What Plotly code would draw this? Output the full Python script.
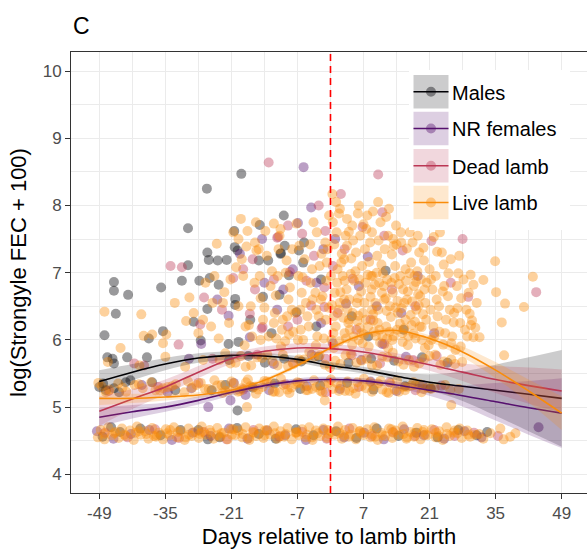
import plotly.graph_objects as go

# ---------------- data ----------------
groups = ["Males", "NR females", "Dead lamb", "Live lamb"]
colors = ["#000004", "#56106E", "#BB3754", "#F98C0A"]
x_ticks = [-49, -35, -21, -7, 7, 21, 35, 49]
x_minor = [-42, -28, -14, 0, 14, 28, 42]
y_ticks = [4, 5, 6, 7, 8, 9, 10]
y_minor = [4.5, 5.5, 6.5, 7.5, 8.5, 9.5]
birth_day = 0

smooth_x = [-49, -42, -35, -28, -21, -14, -7, 0, 7, 14, 21, 28, 35, 42, 49]
males_fit = [5.38, 5.52, 5.64, 5.73, 5.77, 5.76, 5.71, 5.62, 5.55, 5.46, 5.37, 5.31, 5.25, 5.19, 5.13]
males_lo = [5.21, 5.40, 5.55, 5.66, 5.71, 5.71, 5.66, 5.57, 5.50, 5.40, 5.25, 5.09, 4.87, 4.64, 4.41]
males_hi = [5.55, 5.64, 5.73, 5.80, 5.83, 5.81, 5.76, 5.67, 5.60, 5.52, 5.49, 5.53, 5.63, 5.74, 5.85]
nr_fit = [4.85, 4.93, 5.00, 5.10, 5.22, 5.32, 5.39, 5.41, 5.39, 5.33, 5.25, 5.17, 5.08, 4.99, 4.91]
nr_lo = [4.71, 4.83, 4.93, 5.04, 5.17, 5.28, 5.35, 5.37, 5.35, 5.28, 5.17, 5.01, 4.80, 4.59, 4.39]
nr_hi = [4.99, 5.03, 5.07, 5.16, 5.27, 5.36, 5.43, 5.45, 5.43, 5.38, 5.33, 5.33, 5.36, 5.39, 5.43]
dead_fit = [4.94, 5.12, 5.30, 5.52, 5.72, 5.83, 5.88, 5.87, 5.82, 5.73, 5.63, 5.52, 5.41, 5.32, 5.24]
dead_lo = [4.72, 4.97, 5.19, 5.43, 5.64, 5.76, 5.81, 5.80, 5.75, 5.66, 5.54, 5.39, 5.21, 5.05, 4.92]
dead_hi = [5.16, 5.27, 5.41, 5.61, 5.80, 5.90, 5.95, 5.94, 5.89, 5.80, 5.72, 5.65, 5.61, 5.59, 5.56]
live_fit = [5.13, 5.13, 5.15, 5.18, 5.25, 5.40, 5.62, 5.88, 6.08, 6.14, 6.02, 5.82, 5.55, 5.24, 4.91]
live_lo = [5.03, 5.06, 5.10, 5.14, 5.21, 5.37, 5.59, 5.85, 6.05, 6.10, 5.97, 5.74, 5.43, 5.07, 4.66]
live_hi = [5.23, 5.20, 5.20, 5.22, 5.29, 5.43, 5.65, 5.91, 6.11, 6.18, 6.07, 5.90, 5.67, 5.41, 5.16]

males_pts = [
    (-26.2, 8.25), (-18.9, 8.47), (-30.2, 7.66), (-15.0, 7.71), (-9.9, 7.85), (-20.4, 7.62), (-20.3, 7.38),
    (-19.7, 7.33), (-26.1, 7.30), (-25.8, 7.19), (-23.9, 7.18), (-22.0, 7.19), (-15.2, 7.18), (-10.6, 7.28),
    (-9.7, 7.40), (-30.2, 7.11), (-31.5, 6.88), (-27.8, 6.88), (-25.6, 6.92), (-23.7, 6.82), (-45.9, 6.86),
    (-45.9, 6.73), (-42.9, 6.67), (-35.9, 6.78), (-45.5, 6.39), (-47.9, 6.07), (-38.5, 6.02), (-35.5, 6.13),
    (-20.2, 6.61), (-20.2, 6.52), (-26.1, 6.46), (-29.0, 6.27), (-21.6, 5.94), (-27.5, 5.99), (-19.5, 5.97),
    (-19.7, 4.95), (-10.5, 7.29), (-6.7, 7.33), (-5.8, 7.15), (-13.2, 7.18), (-14.3, 6.64), (-8.8, 6.96),
    (11.7, 7.03), (-10.8, 6.67), (-7.2, 6.41), (-5.6, 7.45), (-17.0, 6.30), (-12.5, 6.10), (-3.0, 6.20),
    (4.5, 6.35), (8.0, 6.05), (-2.0, 6.90), (15.5, 6.15),
    (-47.3, 5.74), (-45.9, 5.65), (-43.1, 5.74), (-38.9, 5.74), (-46.2, 5.72), (-21.5, 5.70), (-17.4, 5.76),
    (-13.9, 5.66), (-9.8, 5.72), (-6.2, 5.68), (-2.5, 5.75), (3.8, 5.66), (8.6, 5.72), (13.5, 5.69),
    (19.4, 5.74), (24.8, 5.66),
    (-49.0, 5.30), (-47.6, 5.25), (-45.9, 5.28), (-43.4, 5.37), (-42.4, 5.40), (-37.8, 5.37), (-32.9, 5.25),
    (-25.2, 5.25), (-22.3, 5.33), (-16.5, 5.29), (-11.8, 5.35), (-6.4, 5.27), (-2.2, 5.32), (3.5, 5.36),
    (9.1, 5.26), (15.8, 5.31), (21.2, 5.28), (-48.2, 5.35), (-44.8, 5.22),
    (-48.3, 4.56), (-44.6, 4.63), (-40.3, 4.68), (-36.0, 4.58), (-31.8, 4.66), (-28.0, 4.66), (-23.5, 4.55),
    (-19.8, 4.69), (-15.2, 4.60), (-11.6, 4.53), (-7.3, 4.67), (-3.6, 4.58), (1.2, 4.64), (5.5, 4.54),
    (9.8, 4.68), (14.4, 4.57), (18.2, 4.62), (22.7, 4.55), (27.1, 4.66), (31.0, 4.58), (33.2, 4.63),
    (-46.5, 4.70), (-26.0, 4.52),
]

nr_pts = [
    (-5.7, 8.57), (-4.1, 7.97), (-6.9, 7.74), (7.9, 7.24), (9.8, 6.50), (11.0, 5.94), (-17.1, 6.04),
    (-11.3, 6.45), (3.3, 6.54), (-21.6, 6.36), (-27.4, 5.94), (-19.2, 7.28), (-8.0, 7.05), (-2.0, 6.25),
    (6.0, 6.80), (-14.0, 6.85), (15.0, 6.40), (0.5, 5.95), (-24.0, 6.60), (-1.5, 7.35), (18.5, 6.95),
    (22.0, 6.10), (-10.0, 6.75), (-3.0, 6.85), (1.0, 7.50), (-14.5, 7.50),
    (-25.9, 5.00), (-21.2, 5.10), (-18.0, 5.18),
    (-30.0, 5.72), (-12.0, 5.64), (-4.0, 5.78), (6.5, 5.70), (16.0, 5.75),
    (-40.0, 5.33), (-29.5, 5.28), (-20.5, 5.36), (-13.0, 5.25), (-5.0, 5.31), (2.0, 5.27), (8.5, 5.38),
    (14.0, 5.24), (19.5, 5.33), (-34.5, 5.22),
    (-49.5, 4.64), (-46.0, 4.53), (-42.3, 4.60), (-38.4, 4.66), (-33.6, 4.51), (-29.2, 4.62), (-25.4, 4.57),
    (-21.5, 4.68), (-17.6, 4.53), (-13.4, 4.65), (-9.6, 4.58), (-5.2, 4.51), (-1.5, 4.66), (2.9, 4.55),
    (7.1, 4.62), (11.3, 4.52), (15.6, 4.67), (19.8, 4.58), (24.1, 4.53), (28.4, 4.64), (44.1, 4.70),
    (32.0, 4.55),
]

dead_pts = [
    (2.2, 8.17), (10.1, 8.46), (11.0, 7.90), (6.8, 7.68), (-11.1, 7.53), (-6.0, 7.58), (-1.1, 7.62),
    (-8.6, 7.01), (-5.1, 6.88), (-1.3, 6.78), (11.4, 7.55), (15.3, 7.33), (4.7, 6.91), (-14.6, 6.17),
    (-4.1, 6.51), (-1.3, 6.49), (-14.4, 6.19), (-17.1, 6.39), (11.4, 5.94), (-33.9, 7.10), (-31.5, 7.08),
    (-26.8, 6.63), (-27.6, 6.23), (-32.2, 5.93), (-20.6, 6.92), (28.0, 7.50), (21.4, 7.47), (43.6, 6.71),
    (29.2, 6.64), (-13.1, 8.64), (-11.3, 7.52), (8.5, 6.30), (13.0, 6.75), (-9.0, 6.20), (-23.0, 6.45),
    (-18.5, 7.05), (-2.5, 8.00), (18.0, 6.50), (25.5, 6.85), (-16.0, 6.75), (0.5, 7.10), (5.5, 6.15),
    (-12.0, 6.90), (-7.0, 6.30), (-3.5, 7.25), (1.5, 6.40), (-16.5, 7.20), (-9.0, 7.70), (3.0, 7.35),
    (-41.6, 5.65), (-39.5, 5.62), (-25.0, 5.72), (-15.5, 5.78), (-8.0, 5.66), (-1.0, 5.72), (4.5, 5.77),
    (10.5, 5.65), (17.5, 5.70), (22.5, 5.76),
    (-47.0, 5.24), (-36.5, 5.30), (-28.0, 5.36), (-18.5, 5.26), (-9.5, 5.34), (-1.0, 5.22), (6.0, 5.30),
    (12.5, 5.37), (18.0, 5.25), (23.5, 5.32),
    (-47.8, 4.62), (-43.0, 4.55), (-37.2, 4.67), (-32.1, 4.54), (-26.8, 4.63), (-22.0, 4.52), (-16.3, 4.66),
    (-10.9, 4.56), (-6.0, 4.63), (-0.8, 4.53), (4.0, 4.68), (8.8, 4.57), (13.2, 4.63), (17.9, 4.57),
    (22.0, 4.66), (26.3, 4.57), (30.4, 4.62), (35.5, 4.57),
]

live_band46_x = [
    -48.7, -47.1, -45.6, -44.2, -42.5, -41.0, -39.3, -37.8, -36.4, -34.9, -33.2, -31.8, -30.1, -28.7, -27.3,
    -25.6, -24.0, -22.6, -21.1, -19.5, -18.0, -16.4, -15.1, -13.5, -12.0, -10.6, -9.1, -7.4, -6.0, -4.5,
    -3.1, -1.5, 0.2, 1.6, 3.1, 4.7, 6.2, 7.8, 9.3, 10.7, 12.4, 13.8, 15.3, 16.9, 18.4, 19.8, 21.5, 23.0,
    24.6, 26.1, 27.4, 29.0,
    -49.3, -47.9, -46.3, -44.9, -43.4, -41.7, -40.2, -38.6, -37.0, -35.5, -34.1, -32.5, -30.9, -29.4, -27.9,
    -26.4, -24.8, -23.3, -21.8, -20.2, -18.7, -17.2, -15.7, -14.2, -12.8, -11.3, -9.8, -8.2, -6.7, -5.3,
    -3.8, -2.2, -0.7, 0.9, 2.4, 3.9, 5.4, 7.0, 8.5, 10.0, 11.6, 13.1, 14.6, 16.1, 17.7, 19.1, 20.6, 22.3,
    23.8, 25.3, 27.8, 30.6, 32.4,
    -48.0, -45.8, -43.7, -41.3, -39.0, -36.8, -34.6, -32.3, -30.0, -27.7, -25.4, -23.1, -20.9, -18.6, -16.3,
    -14.0, -11.8, -9.5, -7.2, -5.0, -2.7, -0.4, 1.9, 4.2, 6.4, 8.7, 11.0, 13.3, 15.5, 17.8, 20.1, 22.4,
    24.7, 26.9, 29.2, 31.5,
    36.0, 38.1, 36.7, 39.2, 33.9,
    -40.6, -37.4, -34.0, -30.7, -27.3, -24.0, -20.6, -17.3, -13.9, -10.6, -7.2, -3.9, -0.5, 2.8, 6.2, 9.5,
    12.9, 16.2, 19.6, 22.9, 26.3, 29.6,
]
live_band46_y = [
    4.66, 4.70, 4.63, 4.68, 4.65, 4.71, 4.64, 4.69, 4.62, 4.67, 4.70, 4.64, 4.68, 4.63, 4.71, 4.66, 4.69,
    4.62, 4.67, 4.65, 4.70, 4.63, 4.68, 4.66, 4.71, 4.64, 4.69, 4.62, 4.67, 4.70, 4.65, 4.68, 4.63, 4.71,
    4.66, 4.69, 4.64, 4.67, 4.70, 4.62, 4.68, 4.65, 4.71, 4.63, 4.69, 4.66, 4.67, 4.64, 4.70, 4.62, 4.68,
    4.65,
    4.55, 4.52, 4.58, 4.54, 4.57, 4.51, 4.59, 4.53, 4.56, 4.52, 4.58, 4.55, 4.51, 4.57, 4.54, 4.59, 4.53,
    4.56, 4.52, 4.58, 4.55, 4.51, 4.57, 4.54, 4.59, 4.53, 4.56, 4.52, 4.58, 4.55, 4.51, 4.57, 4.54, 4.59,
    4.53, 4.56, 4.52, 4.58, 4.55, 4.51, 4.57, 4.54, 4.59, 4.53, 4.56, 4.52, 4.58, 4.55, 4.51, 4.57, 4.54,
    4.59, 4.53,
    4.60, 4.61, 4.59, 4.62, 4.60, 4.58, 4.61, 4.63, 4.59, 4.60, 4.62, 4.61, 4.59, 4.60, 4.62, 4.58, 4.61,
    4.60, 4.63, 4.59, 4.61, 4.60, 4.62, 4.59, 4.61, 4.60, 4.58, 4.62, 4.60, 4.61, 4.59, 4.62, 4.60, 4.61,
    4.59, 4.60,
    4.68, 4.56, 4.52, 4.61, 4.61,
    4.64, 4.57, 4.66, 4.55, 4.63, 4.58, 4.67, 4.54, 4.65, 4.57, 4.62, 4.55, 4.66, 4.58, 4.64, 4.56,
    4.67, 4.55, 4.63, 4.57, 4.65, 4.56,
]

live_band53_x = [
    -48.5, -46.8, -45.0, -43.3, -41.5, -39.8, -38.0, -36.2, -34.5, -32.8, -31.0, -29.3, -27.5, -25.8, -24.0,
    -22.3, -20.5, -18.8, -17.0, -15.3, -13.5, -11.8, -10.0, -8.3, -6.5, -4.8, -3.0, -1.3, 0.5, 2.2, 4.0,
    5.7, 7.5, 9.2, 11.0, 12.7, 14.5, 16.2, 18.0, 19.8, 22.1, 25.4,
    -49.2, -47.6, -44.1, -40.6, -37.1, -33.6, -30.2, -26.6, -23.1, -19.6, -16.2, -12.6, -9.1, -5.6, -2.1,
    1.4, 4.9, 8.4, 11.9, 15.4, 18.9, 21.3,
    -35.5, -28.4, -21.4, -17.9, -14.4, -10.9, -7.4, -3.9, -0.4, 3.1, 6.6, 10.1, 13.6, 17.1, 20.6, 24.3,
    27.2,
    -24.6, -22.9, -21.0, -19.2, -17.5, -15.8, -14.0, -12.2, -10.5, -8.7, -7.0, -5.2, -3.5, -1.7, 0.1,
    1.8, 3.6, 5.3, 7.1, 8.8, 10.6, 12.3, 14.1, 15.8, 17.6, 19.3,
]
live_band53_y = [
    5.31, 5.26, 5.35, 5.23, 5.33, 5.28, 5.37, 5.25, 5.30, 5.34, 5.22, 5.29, 5.36, 5.27, 5.32, 5.24, 5.35,
    5.28, 5.31, 5.26, 5.38, 5.23, 5.33, 5.29, 5.36, 5.25, 5.30, 5.34, 5.27, 5.32, 5.24, 5.37, 5.28, 5.31,
    5.26, 5.35, 5.23, 5.30, 5.33, 5.27, 5.29, 5.25,
    5.36, 5.22, 5.29, 5.34, 5.25, 5.31, 5.38, 5.27, 5.33, 5.23, 5.30, 5.36, 5.26, 5.32, 5.24, 5.35, 5.28,
    5.37, 5.22, 5.30, 5.34, 5.27,
    5.28, 5.33, 5.25, 5.37, 5.30, 5.22, 5.34, 5.27, 5.36, 5.24, 5.31, 5.35, 5.26, 5.32, 5.29, 5.33, 5.27,
    5.40, 5.21, 5.38, 5.24, 5.41, 5.20, 5.39, 5.23, 5.42, 5.21, 5.37, 5.25, 5.40, 5.22, 5.41, 5.24,
    5.38, 5.20, 5.42, 5.23, 5.39, 5.21, 5.40, 5.25, 5.37, 5.22,
]

live_band57_x = [
    -23.5, -21.2, -19.0, -16.8, -14.5, -12.3, -10.1, -7.9, -5.6, -3.4, -1.2, 1.0, 3.2, 5.5, 7.7, 9.9, 12.1,
    14.4, 16.6, 18.8, 21.0, 23.3, 25.6, 27.9,
    -20.1, -15.6, -11.2, -6.7, -2.3, 2.1, 6.6, 11.0, 15.5, 19.9, 24.1,
    -47.2, -40.5, -35.0, -30.8, -27.0,
    -22.3, -18.0, -13.4, -9.0, -4.5, -0.1, 4.3, 8.8, 13.2, 17.7, 22.2, 26.4,
    -18.2, -14.8, -10.5, -6.9, -3.1, 0.7, 4.6, 8.1, 12.2, 16.4, 20.0, 23.9, 27.6,
]
live_band57_y = [
    5.70, 5.65, 5.76, 5.62, 5.73, 5.68, 5.78, 5.64, 5.71, 5.75, 5.63, 5.69, 5.77, 5.66, 5.72, 5.62, 5.74,
    5.68, 5.70, 5.65, 5.76, 5.63, 5.71, 5.67,
    5.66, 5.74, 5.62, 5.71, 5.77, 5.64, 5.69, 5.75, 5.63, 5.72, 5.68,
    5.67, 5.62, 5.75, 5.60, 5.70,
    5.80, 5.60, 5.78, 5.61, 5.82, 5.59, 5.79, 5.62, 5.81, 5.60, 5.78, 5.64,
    5.92, 6.00, 5.90, 6.00, 5.92, 5.88, 5.93, 5.90, 5.88, 5.92, 5.88, 5.93, 5.90,
]

live_cloud = [
    (0.8, 7.42), (1.5, 7.05), (2.1, 6.71), (2.7, 6.33), (3.3, 6.02), (3.9, 7.61), (4.4, 7.21), (5.0, 6.88),
    (5.6, 6.55), (6.2, 6.18), (6.8, 5.95), (7.3, 7.35), (7.9, 6.97), (8.5, 6.64), (9.1, 6.29), (9.6, 6.06),
    (10.2, 7.48), (10.8, 7.12), (11.3, 6.80), (11.9, 6.43), (12.5, 6.12), (13.0, 7.27), (13.6, 6.92),
    (14.2, 6.58), (14.7, 6.24), (15.3, 5.97), (15.9, 7.05), (16.4, 6.72), (17.0, 6.37), (17.6, 6.09),
    (18.1, 6.86), (18.7, 6.51), (19.3, 6.19), (19.8, 7.18),
    (0.3, 6.52), (1.1, 6.20), (1.9, 5.98), (2.4, 7.28), (3.0, 6.88), (3.6, 6.46), (4.1, 6.15), (4.8, 7.48),
    (5.3, 7.02), (5.9, 6.36), (6.5, 6.72), (7.1, 6.08), (7.6, 7.65), (8.2, 7.16), (8.8, 6.45), (9.4, 6.82),
    (10.0, 6.25), (10.5, 5.96), (11.1, 6.99), (11.7, 6.62), (12.2, 7.55), (12.8, 6.34), (13.4, 6.05),
    (14.0, 7.42), (14.5, 6.83), (15.1, 6.47), (15.6, 6.17), (16.2, 7.36), (16.8, 6.99), (17.3, 6.57),
    (17.9, 6.27), (18.4, 7.02), (19.0, 6.65), (19.6, 6.38),
    (1.2, 8.05), (1.8, 7.88), (0.4, 8.17), (5.8, 7.88), (9.0, 7.91), (10.1, 8.05), (13.9, 7.70), (3.5, 7.80),
    (7.0, 7.72), (11.8, 7.83),
    (-17.3, 6.22), (-16.1, 6.85), (-15.2, 7.35), (-14.0, 6.48), (-13.1, 6.05), (-12.4, 7.02), (-11.6, 6.66),
    (-10.8, 7.55), (-10.1, 6.30), (-9.3, 7.18), (-8.6, 6.78), (-7.9, 6.12), (-7.2, 7.73), (-6.6, 7.40),
    (-5.9, 6.93), (-5.2, 6.55), (-4.6, 6.20), (-3.9, 7.05), (-3.2, 6.70), (-2.9, 7.60), (-2.5, 6.35),
    (-1.9, 7.28), (-1.4, 6.02), (-0.9, 6.88), (-0.4, 6.48), (-16.6, 6.05), (-13.8, 7.62), (-12.0, 6.25),
    (-8.2, 6.45), (-6.3, 6.15), (-4.3, 7.42), (-2.0, 6.60), (-0.8, 7.15), (-11.2, 6.95), (-15.8, 7.75),
    (-14.8, 6.62), (-9.6, 5.98), (-12.0, 7.73), (-10.6, 7.65),
    (20.4, 6.85), (21.2, 6.45), (21.9, 7.53), (22.6, 7.31), (23.1, 6.12), (23.8, 6.72), (24.5, 6.30),
    (25.0, 6.99), (25.6, 5.95), (26.1, 6.26), (26.9, 6.47), (27.1, 6.99), (27.7, 6.62), (28.5, 6.15),
    (29.7, 6.97), (30.0, 6.29), (30.3, 6.82), (30.7, 6.18), (30.3, 6.04), (31.6, 6.04), (29.8, 6.22),
    (29.5, 6.39), (32.4, 6.89), (19.7, 7.37), (24.0, 7.12), (22.0, 6.05), (20.8, 5.92), (26.5, 5.85),
    (34.9, 7.17), (42.9, 6.94), (35.1, 6.71), (37.0, 6.54), (41.0, 6.49), (36.3, 6.26), (36.8, 5.77),
    (25.6, 5.03), (-1.2, 5.10), (-17.7, 5.00),
    (-47.9, 6.42), (-40.1, 6.38), (-29.9, 6.63), (-24.1, 7.43), (-29.0, 6.40), (-30.6, 6.28), (-25.3, 6.20),
    (-23.7, 6.02), (-39.6, 6.06), (-37.8, 6.08), (-34.8, 6.08), (-22.5, 6.71), (-20.0, 7.08), (-19.0, 7.80),
    (-17.6, 7.62), (-20.6, 7.60), (-17.8, 7.39), (-15.7, 7.33), (-26.5, 6.85), (-33.0, 6.55), (-19.5, 6.50),
    (-21.5, 6.25), (-18.5, 6.95), (-25.0, 6.55), (-28.0, 6.10), (-44.5, 5.88), (-35.5, 5.95),
]

live_cloud2 = [
    (0.1, 6.95), (0.6, 6.10), (1.3, 7.60), (1.7, 6.45), (2.3, 7.15), (2.9, 6.60), (3.5, 7.40), (3.8, 6.25),
    (4.3, 6.98), (4.9, 6.05), (5.4, 7.30), (5.8, 6.62), (6.3, 7.55), (6.9, 6.40), (7.4, 6.85), (8.0, 6.20),
    (8.4, 7.45), (8.9, 6.95), (9.5, 6.55), (9.9, 7.25), (10.4, 6.15), (10.9, 6.70), (11.5, 7.35), (12.0, 6.90),
    (12.6, 6.50), (13.1, 6.00), (13.7, 7.10), (14.3, 6.40), (14.9, 7.60), (15.4, 6.75), (15.9, 6.30),
    (16.5, 6.05), (17.1, 7.15), (17.7, 6.80), (18.2, 6.45), (18.8, 7.30), (19.4, 6.00), (19.9, 6.75),
    (0.5, 7.75), (2.0, 7.95), (3.2, 7.55), (4.6, 7.70), (6.0, 8.00), (7.8, 7.85), (8.8, 7.60), (10.6, 7.75),
    (12.4, 7.95), (13.3, 7.50), (15.0, 7.45), (16.8, 7.60), (18.5, 7.55),
    (0.9, 6.70), (2.6, 6.95), (4.0, 6.60), (5.7, 6.28), (7.2, 6.55), (8.6, 6.95), (10.3, 6.85), (11.8, 6.20),
    (13.2, 6.70), (14.8, 6.95), (16.2, 6.60), (17.8, 6.95), (19.2, 6.90),
    (20.3, 6.30), (21.0, 7.05), (21.6, 6.75), (22.3, 6.95), (23.0, 6.50), (23.6, 7.30), (24.3, 6.10),
    (24.9, 6.65), (25.5, 7.20), (26.2, 6.40), (26.8, 6.80), (27.5, 6.25), (28.2, 6.90), (28.8, 6.45),
    (29.3, 6.70), (31.0, 6.55), (27.3, 7.25), (23.2, 7.60), (25.8, 6.05), (21.8, 6.20), (29.0, 6.05),
    (-0.3, 7.85), (-1.1, 7.45), (-1.7, 6.65), (-2.3, 7.10), (-3.0, 6.45), (-3.6, 7.75), (-4.2, 6.85),
    (-4.9, 6.35), (-5.5, 7.20), (-6.1, 6.70), (-6.8, 6.95), (-7.5, 6.40), (-8.1, 7.35), (-8.9, 6.60),
    (-9.5, 7.00), (-10.3, 6.15), (-11.0, 7.35), (-11.8, 6.40), (-12.7, 6.80), (-13.5, 7.25), (-14.3, 6.30),
    (-15.0, 6.95), (-16.0, 7.45), (-16.9, 6.50), (-18.0, 6.20), (-18.8, 7.20), (-19.5, 7.50), (-21.2, 6.90),
    (-22.8, 6.55), (-24.6, 6.95), (-27.0, 6.30),
    (0.2, 6.00), (3.0, 6.10), (6.0, 6.00), (9.2, 6.12), (12.0, 6.02), (15.2, 6.10), (18.0, 6.02),
    (21.4, 6.00), (-2.8, 6.05), (-5.8, 6.00), (-8.8, 6.08), (-11.5, 6.02),
    (0.7, 6.35), (2.0, 6.55), (3.4, 6.75), (4.7, 6.40), (6.1, 6.90), (7.5, 6.30), (8.7, 6.75), (10.1, 6.45),
    (11.4, 6.60), (12.9, 6.85), (14.1, 6.15), (15.6, 6.55), (17.2, 6.22), (18.6, 6.68), (20.1, 6.55),
    (21.3, 6.90), (22.7, 6.35), (24.1, 6.80), (25.3, 6.45), (1.4, 6.85), (3.9, 6.30), (6.6, 6.10),
    (9.0, 6.38), (11.0, 6.05), (13.8, 6.48), (16.0, 6.88), (18.9, 6.20), (22.5, 6.60), (-1.0, 6.30),
    (-3.8, 6.60), (-6.4, 6.45), (-9.2, 6.35), (-0.6, 7.35), (2.9, 7.20), (6.7, 7.10), (9.8, 7.00),
    (13.4, 7.40), (17.4, 7.45),
]

# ---------------- figure ----------------
W, H = 587, 555
ML, MR, MT, MB = 71, 0, 52, 62
PW, PH = W - ML - MR, H - MT - MB
PT_ALPHA = 0.4


def px_x(p):
    return (p - ML) / PW


def px_y(p):
    return (H - MB - p) / PH


def rgba(hexc, a):
    h = hexc.lstrip("#")
    return "rgba(%d,%d,%d,%.3f)" % (int(h[0:2], 16), int(h[2:4], 16), int(h[4:6], 16), a)


fig = go.Figure()

all_pts = [males_pts, nr_pts, dead_pts]
for g, c, pts in zip(groups[:3], colors[:3], all_pts):
    fig.add_trace(go.Scatter(
        x=[p[0] for p in pts], y=[p[1] for p in pts], mode="markers",
        marker=dict(size=10, color=c, opacity=PT_ALPHA, line=dict(width=0)),
        showlegend=False, hoverinfo="skip"))

live_x = (live_band46_x + live_band53_x + live_band57_x + [p[0] for p in live_cloud]
          + [p[0] for p in live_cloud2])
live_y = (live_band46_y + live_band53_y + live_band57_y + [p[1] for p in live_cloud]
          + [p[1] for p in live_cloud2])
fig.add_trace(go.Scatter(
    x=live_x, y=live_y, mode="markers",
    marker=dict(size=10, color=colors[3], opacity=PT_ALPHA, line=dict(width=0)),
    showlegend=False, hoverinfo="skip"))

fits = [(males_fit, males_lo, males_hi), (nr_fit, nr_lo, nr_hi),
        (dead_fit, dead_lo, dead_hi), (live_fit, live_lo, live_hi)]
for c, (fit, lo, hi) in zip(colors, fits):
    fig.add_trace(go.Scatter(x=smooth_x, y=lo, mode="lines", line=dict(width=0, shape="spline"),
                             showlegend=False, hoverinfo="skip"))
    fig.add_trace(go.Scatter(x=smooth_x, y=hi, mode="lines", line=dict(width=0, shape="spline"),
                             fill="tonexty", fillcolor=rgba(c, 0.2), showlegend=False, hoverinfo="skip"))
    fig.add_trace(go.Scatter(x=smooth_x, y=fit, mode="lines", line=dict(width=1.6, color=c, shape="spline"),
                             showlegend=False, hoverinfo="skip"))

shapes = []
shapes.append(dict(type="line", xref="x", yref="paper", x0=birth_day, x1=birth_day, y0=0, y1=1,
                   line=dict(color="#FF0000", width=1.6, dash="7px,5px"), layer="above"))

# manual ggplot-like legend
shapes.append(dict(type="rect", xref="paper", yref="paper", x0=px_x(409), x1=px_x(570),
                   y0=px_y(230), y1=px_y(70), fillcolor="white", line=dict(width=0), layer="above"))
annotations = []
key_top = [75, 111.7, 149, 185.7]
for g, c, kt in zip(groups, colors, key_top):
    kb = kt + 33.5
    cy = (kt + kb) / 2
    shapes.append(dict(type="rect", xref="paper", yref="paper", x0=px_x(413.5), x1=px_x(448.5),
                       y0=px_y(kb), y1=px_y(kt), fillcolor=rgba(c, 0.2), line=dict(width=0), layer="above"))
    shapes.append(dict(type="line", xref="paper", yref="paper", x0=px_x(413.5), x1=px_x(448.5),
                       y0=px_y(cy), y1=px_y(cy), line=dict(color=c, width=1.6), layer="above"))
    shapes.append(dict(type="circle", xref="paper", yref="paper", x0=px_x(426), x1=px_x(436),
                       y0=px_y(cy + 5), y1=px_y(cy - 5), fillcolor=rgba(c, 0.4), line=dict(width=0),
                       layer="above"))
    annotations.append(dict(text=g, xref="paper", yref="paper", x=px_x(450), y=px_y(cy + 1),
                            xanchor="left", yanchor="middle", showarrow=False,
                            font=dict(size=20, color="black", family="Liberation Sans, Arial, sans-serif")))

annotations.append(dict(text="C", xref="paper", yref="paper", x=px_x(71), y=px_y(26),
                        xanchor="left", yanchor="middle", showarrow=False,
                        font=dict(size=23, color="black", family="Liberation Sans, Arial, sans-serif")))

grid_c = "#EBEBEB"
fig.update_layout(
    width=W, height=H, margin=dict(l=ML, r=MR, t=MT, b=MB),
    paper_bgcolor="white", plot_bgcolor="white",
    font=dict(family="Liberation Sans, Arial, sans-serif"),
    shapes=shapes, annotations=annotations, showlegend=False,
    xaxis=dict(range=[-55.0, 54.37], tickmode="array", tickvals=x_ticks,
               ticktext=[str(v) for v in x_ticks],
               showgrid=True, gridcolor=grid_c, gridwidth=1.2,
               minor=dict(tickmode="array", tickvals=x_minor, showgrid=True, gridcolor=grid_c, gridwidth=0.7),
               ticks="outside", ticklen=5, tickcolor="#333333", tickwidth=1,
               showline=True, linecolor="#333333", linewidth=1, mirror=True, zeroline=False,
               tickfont=dict(size=17, color="#4D4D4D"),
               title=dict(text="Days relative to lamb birth", font=dict(size=22, color="black"), standoff=6)),
    yaxis=dict(range=[3.722, 10.283], tickmode="array", tickvals=y_ticks,
               ticktext=[str(v) for v in y_ticks],
               showgrid=True, gridcolor=grid_c, gridwidth=1.2,
               minor=dict(tickmode="array", tickvals=y_minor, showgrid=True, gridcolor=grid_c, gridwidth=0.7),
               ticks="outside", ticklen=5, tickcolor="#333333", tickwidth=1,
               showline=True, linecolor="#333333", linewidth=1, mirror=False, zeroline=False,
               tickfont=dict(size=17, color="#4D4D4D"),
               title=dict(text="log(Strongyle FEC + 100)", font=dict(size=22, color="black"), standoff=9)),
)

fig.write_html("out.html")
